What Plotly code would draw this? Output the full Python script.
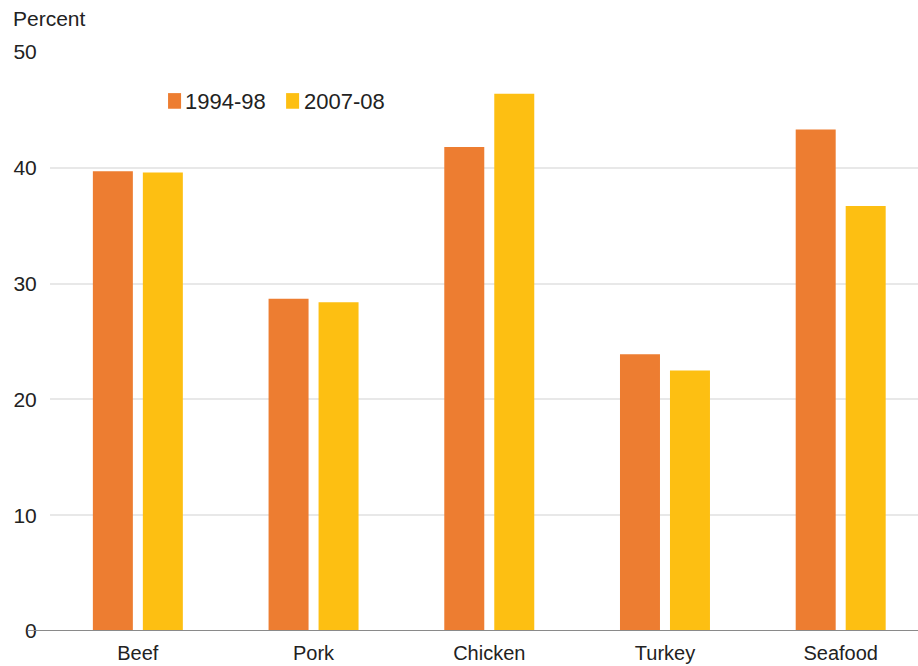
import plotly.graph_objects as go

categories = ["Beef", "Pork", "Chicken", "Turkey", "Seafood"]
series_names = ["1994-98", "2007-08"]
values_1994_98 = [39.7, 28.7, 41.8, 23.9, 43.3]
values_2007_08 = [39.6, 28.4, 46.4, 22.5, 36.7]
y_ticks = [0, 10, 20, 30, 40, 50]

ORANGE = "#ED7D31"
YELLOW = "#FDBF12"
colors = [ORANGE, YELLOW]
FONT = "Liberation Sans, Arial, Helvetica, sans-serif"
TEXT = "#222222"

fig = go.Figure()
for name, vals, col in zip(series_names, [values_1994_98, values_2007_08], colors):
    fig.add_trace(go.Bar(name=name, x=categories, y=vals,
                         marker=dict(color=col, line=dict(width=0))))

# baseline drawn across the full width, past the gridlines
fig.add_shape(type="line", xref="paper", yref="y", x0=-0.026, x1=1, y0=0, y1=0,
              line=dict(color="#8a8a8a", width=2), layer="above")

# compact key: colour swatch followed by the series label
key_swatches = [(0.136, 0.151), (0.272, 0.287)]
key_text_x = [0.153, 0.290]
annotations = []
for (sx0, sx1), tx, name, col in zip(key_swatches, key_text_x, series_names, colors):
    fig.add_shape(type="rect", xref="paper", yref="paper", x0=sx0, x1=sx1,
                  y0=0.902, y1=0.929, fillcolor=col, line=dict(width=0))
    annotations.append(dict(text=name, xref="paper", yref="paper", x=tx, y=0.915,
                            xanchor="left", yanchor="middle", showarrow=False,
                            font=dict(size=22, color=TEXT)))

annotations.append(dict(text="Percent", xref="paper", yref="paper", x=-0.045, y=1.0,
                        xanchor="left", yanchor="bottom", yshift=20, showarrow=False,
                        font=dict(size=21, color=TEXT)))

fig.update_layout(
    width=918, height=666,
    margin=dict(l=50, r=0, t=52, b=35),
    paper_bgcolor="white", plot_bgcolor="white",
    font=dict(family=FONT, size=21, color=TEXT),
    barmode="group", bargap=0.431, bargroupgap=0.2,
    showlegend=False,
    xaxis=dict(range=[-0.5, 4.44], showgrid=False, showline=False, zeroline=False,
               automargin=False,
               ticks="outside", ticklen=4, tickcolor="rgba(0,0,0,0)",
               tickfont=dict(size=20, color=TEXT)),
    yaxis=dict(range=[0, 50], tickvals=y_ticks, showgrid=True, gridcolor="#e8e8e8",
               gridwidth=1.5, zeroline=False, showline=False, automargin=False,
               ticks="outside", ticklen=8, tickcolor="rgba(0,0,0,0)",
               tickfont=dict(size=21, color=TEXT)),
    annotations=annotations,
)

fig.write_html("out.html")
